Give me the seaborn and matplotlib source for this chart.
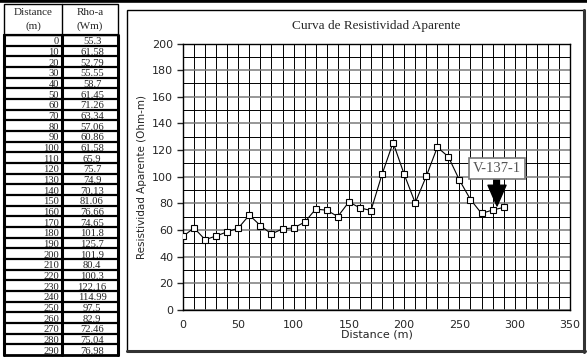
import matplotlib
matplotlib.use("Agg")
import matplotlib.pyplot as plt
import seaborn as sns
import pandas as pd
from matplotlib.patches import Rectangle
from matplotlib.lines import Line2D

# ---- data ----
distance = [0, 10, 20, 30, 40, 50, 60, 70, 80, 90, 100, 110, 120, 130, 140,
            150, 160, 170, 180, 190, 200, 210, 220, 230, 240, 250, 260, 270, 280, 290]
rho_a = [55.3, 61.58, 52.79, 55.55, 58.7, 61.45, 71.26, 63.34, 57.06, 60.86,
         61.58, 65.9, 75.7, 74.9, 70.13, 81.06, 76.66, 74.65, 101.8, 125.7,
         101.9, 80.4, 100.3, 122.16, 114.99, 97.5, 82.9, 72.46, 75.04, 76.98]
x_ticks = [0, 50, 100, 150, 200, 250, 300, 350]
y_ticks = [0, 20, 40, 60, 80, 100, 120, 140, 160, 180, 200]
title = "Curva de Resistividad Aparente"
x_label = "Distance (m)"
y_label = "Resistividad Aparente (Ohm-m)"
table_headers = [("Distance", "(m)"), ("Rho-a", "(Wm)")]
annot_label = "V-137-1"
annot_x = 284
annot_tip_y = 78
annot_text_y = 106.5

sns.set_style("white")
plt.rcParams['font.family'] = ['DejaVu Sans']

W, H = 587, 358
fig = plt.figure(figsize=(W / 100, H / 100), dpi=100)

# ---- overlay axes in pixel coords ----
ov = fig.add_axes([0, 0, 1, 1], zorder=0)
ov.set_xlim(0, W)
ov.set_ylim(H, 0)
ov.axis("off")

# top black band
ov.add_line(Line2D([0, W], [1.2, 1.2], color="black", lw=2.6))

# chart panel
ov.add_patch(Rectangle((127, 10), 457, 341, fill=False, ec="black", lw=1.0))
ov.add_line(Line2D([584, 584], [10, 352], color="#333333", lw=2.2))
ov.add_line(Line2D([127, 585], [351, 351], color="#333333", lw=2.2))

# table
tl, tm, tr = 4, 62, 118
ttop, hbot = 4, 35
n = len(distance)
rh = (355 - hbot) / n
serif = ["Liberation Serif", "DejaVu Serif"]
ov.add_patch(Rectangle((tl, ttop), tr - tl, hbot - ttop, fill=False, ec="black", lw=1.0))
ov.add_line(Line2D([tm, tm], [ttop, hbot], color="black", lw=1.0))
for (h1, h2), cx in zip(table_headers, [(tl + tm) / 2, (tm + tr) / 2]):
    ov.text(cx, 12.5, h1, ha="center", va="center", fontsize=8, family=serif)
    ov.text(cx, 26, h2, ha="center", va="center", fontsize=8, family=serif)
for i, (d, r) in enumerate(zip(distance, rho_a)):
    y0 = hbot + i * rh
    ov.add_line(Line2D([tl, tr], [y0, y0], color="black", lw=1.6))
    ov.text(tm - 3, y0 + rh - 1.3, f"{d}", ha="right", va="baseline",
            fontsize=7.6, family=serif, color="#222222")
    ov.text((tm + tr) / 2 + 2, y0 + rh - 1.3, f"{r:g}", ha="center", va="baseline",
            fontsize=7.6, family=serif, color="#222222")
ov.add_line(Line2D([tl, tr], [355, 355], color="black", lw=2.0))
ov.add_line(Line2D([tl, tl], [hbot, 355], color="black", lw=2.2))
ov.add_line(Line2D([tm, tm], [hbot, 355], color="black", lw=2.2))
ov.add_line(Line2D([tr, tr], [hbot, 355], color="black", lw=2.2))

# ---- main chart ----
left, right, bottom, top = 183, 570, 310, 43.5
ax = fig.add_axes([left / W, 1 - bottom / H, (right - left) / W, (bottom - top) / H], zorder=2)
ax.set_facecolor("white")

df = pd.DataFrame({"Distance": distance, "Rho": rho_a})

ax.set_xlim(0, 350)
ax.set_ylim(0, 200)
# grid
for gx in range(0, 351, 10):
    ax.axvline(gx, color="black", lw=0.7, zorder=1)
for gy in range(0, 201, 10):
    if gy % 20 == 0:
        ax.axhline(gy, color="#7a7a7a", lw=1.1, zorder=1.1)
    else:
        ax.axhline(gy, color="black", lw=0.7, zorder=1)

sns.lineplot(data=df, x="Distance", y="Rho", ax=ax, color="black", lw=0.8,
             marker="s", markersize=5, markerfacecolor="white",
             markeredgecolor="black", markeredgewidth=0.8, zorder=3)

ax.set_xticks(x_ticks)
ax.set_yticks(y_ticks)
ax.tick_params(axis="x", length=0, labelsize=8, pad=7)
ax.tick_params(axis="y", length=4, width=1, labelsize=8, pad=3, left=True)
for s in ax.spines.values():
    s.set_color("black")
    s.set_linewidth(1.0)
ax.set_xlabel(x_label, fontsize=8, labelpad=0)
ax.set_ylabel(y_label, fontsize=7.5, labelpad=4)
fig.text((left + right) / 2 / W, 1 - 26 / H, title, ha="center", va="center",
         fontsize=9.5, family=serif)

# annotation
ax.annotate("", xy=(annot_x, annot_tip_y), xytext=(annot_x, annot_text_y - 6),
            arrowprops=dict(facecolor="black", edgecolor="black", width=3.5,
                            headwidth=13, headlength=15, shrink=0), zorder=5)
ax.text(annot_x, annot_text_y, annot_label, ha="center", va="center", fontsize=10.5,
        family=serif, color="#555555", zorder=6,
        bbox=dict(boxstyle="square,pad=0.28", fc="white", ec="#777777", lw=1.2))

fig.savefig("out.png", dpi=100)
